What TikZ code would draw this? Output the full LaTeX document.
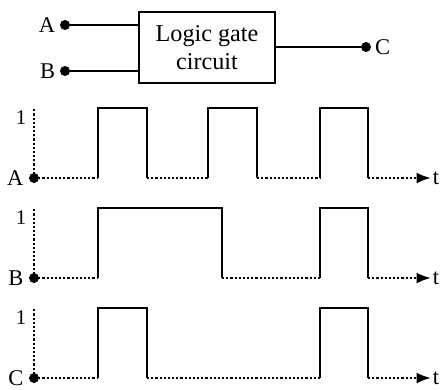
\documentclass[tikz,border=0pt]{standalone}
\usepackage{fontspec}
\setmainfont{Liberation Serif}
\usetikzlibrary{arrows.meta,positioning}

\tikzset{
  sig/.style={line width=1.3pt},
  low/.style={line width=1.3pt, dash pattern=on 1.3pt off 1.2pt},
  pin/.style={circle, fill, inner sep=0pt, minimum size=6pt},
  lbl/.style={font=\fontsize{13.5}{16.8}\selectfont, inner sep=1pt},
}

\begin{document}
\begin{tikzpicture}[x=0.6pt,y=-0.6pt]
    \useasboundingbox (0,0) rectangle (442,389);
    % Gate block
    \node[draw, line width=1.3pt, minimum width=81.6pt, minimum height=42.6pt,
          align=center, lbl, font=\fontsize{14.5}{16.8}\selectfont] (gate) at (207,47.5) {Logic gate\\circuit};
    % Inputs and output
    \node[pin] (inA) at (65,25) {};
    \node[pin] (inB) at (65,71) {};
    \node[pin] (outC) at (366,47) {};
    \node[lbl, left=1.5pt of inA] (txtA) {A};
    \node[lbl, left=1.5pt of inB] (txtB) {B};
    \node[lbl, right=1pt of outC] (txtC) {C};
    \draw[sig] (inA) -- (inA -| gate.west);
    \draw[sig] (inB) -- (inB -| gate.west);
    \draw[sig] (gate.east |- outC) -- (outC);
    % Waveforms
    \foreach \name/\y/\pulses/\lows in {
        A/178/{98/147,208/257,320/368}/{34/98,147/208,257/320},
        B/278/{98/222,320/368}/{34/98,222/320},
        C/378/{98/147,320/368}/{34/98,147/320}} {
        \coordinate (o\name) at (34,\y);
        \draw[low] (o\name) -- (34,\y-70);
        \node[lbl, font=\fontsize{12.5}{14}\selectfont] (one\name) at (21,\y-60) {1};
        \node[lbl] (t\name) at (436,\y) {t};
        \foreach \a/\b in \pulses {
            \draw[sig] (\a,\y) -- (\a,\y-70) -- (\b,\y-70) -- (\b,\y);
        }
        \foreach \a/\b in \lows {
            \draw[low] (\a,\y) -- (\b,\y);
        }
        \draw[low, -{Latex[length=8.5pt,width=6.5pt]}] (368,\y) -- (t\name.west);
        \node[pin] (dot\name) at (o\name) {};
        \node[lbl, left=2pt of dot\name] (sig\name) {\name};
    }
\end{tikzpicture}
\end{document}
